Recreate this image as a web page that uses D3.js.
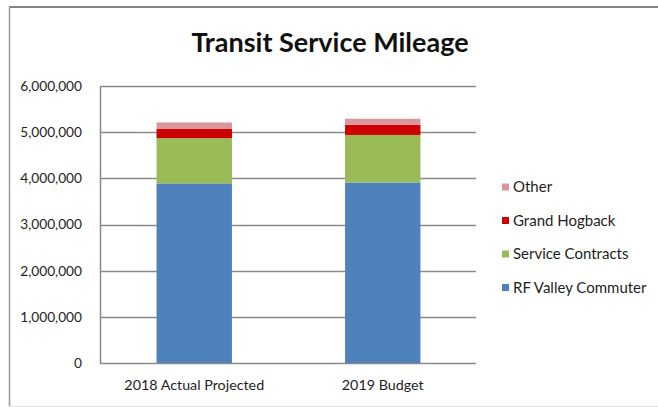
<!DOCTYPE html>
<html>
<head>
<meta charset="utf-8">
<script src="https://cdn.jsdelivr.net/npm/d3@7"></script>
<style>
  html, body { margin: 0; padding: 0; background: #fff; }
  svg { display: block; font-family: Lato, "Open Sans", sans-serif; }
</style>
</head>
<body>
<svg id="chart" width="658" height="407"></svg>
<script>
const title = "Transit Service Mileage";
const categories = ["2018 Actual Projected", "2019 Budget"];
const seriesNames = ["RF Valley Commuter", "Service Contracts", "Grand Hogback", "Other"];
const rfValleyCommuter = [3890000, 3910000];
const serviceContracts = [980000, 1030000];
const grandHogback = [200000, 220000];
const other = [140000, 130000];
const yTicks = [0, 1000000, 2000000, 3000000, 4000000, 5000000, 6000000];
const colors = ["#4F81BD", "#9BBB59", "#CC0000", "#DA959C"];

const svg = d3.select("#chart");

// chart frame
svg.append("rect").attr("x", 0).attr("y", 0).attr("width", 658).attr("height", 407).attr("fill", "#fff");
svg.append("line").attr("x1", 9).attr("x2", 658).attr("y1", 7).attr("y2", 7)
  .attr("stroke", "#858585").attr("stroke-width", 2);
svg.append("line").attr("x1", 9.5).attr("x2", 9.5).attr("y1", 7).attr("y2", 406)
  .attr("stroke", "#9a9a9a").attr("stroke-width", 1.5);
svg.append("line").attr("x1", 9).attr("x2", 658).attr("y1", 406.5).attr("y2", 406.5)
  .attr("stroke", "#e2e2e2").attr("stroke-width", 1);

const x = d3.scaleBand().domain(categories).range([100, 477]).paddingInner(0.6).paddingOuter(0.3);
const y = d3.scaleLinear().domain([0, 6000000]).range([363, 86]);

// gridlines
svg.append("g").selectAll("line").data(yTicks).join("line")
  .attr("x1", 100).attr("x2", 476)
  .attr("y1", d => Math.round(y(d)) + 0.5).attr("y2", d => Math.round(y(d)) + 0.5)
  .attr("stroke", "#8a8a8a").attr("stroke-width", 1.5);

// y axis
const yAxis = svg.append("g").attr("transform", "translate(100,0)")
  .call(d3.axisLeft(y).tickValues(yTicks).tickSize(0).tickPadding(18)
    .tickFormat(d3.format(",")));
yAxis.select(".domain").attr("stroke", "#8a8a8a").attr("stroke-width", 1.5);
yAxis.selectAll("text").attr("font-size", 13.7).attr("fill", "#1e1e1e")
  .attr("font-family", "Lato, sans-serif");

// stacked data
const table = categories.map((c, i) => ({
  category: c,
  "RF Valley Commuter": rfValleyCommuter[i],
  "Service Contracts": serviceContracts[i],
  "Grand Hogback": grandHogback[i],
  "Other": other[i]
}));
const stack = d3.stack().keys(seriesNames)(table);

svg.append("g").selectAll("g").data(stack).join("g")
  .attr("fill", (d, i) => colors[i])
  .selectAll("rect").data(d => d).join("rect")
  .attr("x", d => x(d.data.category))
  .attr("width", x.bandwidth())
  .attr("y", d => y(d[1]))
  .attr("height", d => y(d[0]) - y(d[1]));

// x axis
const xAxis = svg.append("g").attr("transform", "translate(0,363)")
  .call(d3.axisBottom(x).tickSize(0).tickPadding(17));
xAxis.select(".domain").remove();
xAxis.selectAll("text").attr("font-size", 14.3).attr("fill", "#1e1e1e")
  .attr("font-family", "Lato, sans-serif");

// title
svg.append("text").attr("x", 330).attr("y", 52).attr("text-anchor", "middle")
  .attr("font-size", 27).attr("font-weight", "bold").attr("fill", "#111")
  .text(title);

// legend (reverse order)
const legendOrder = seriesNames.map((n, i) => ({ name: n, color: colors[i] })).reverse();
const lg = svg.append("g").selectAll("g").data(legendOrder).join("g")
  .attr("transform", (d, i) => `translate(502, ${187 + i * 33.5})`);
lg.append("rect").attr("x", 0).attr("y", -3.5).attr("width", 7).attr("height", 7)
  .attr("fill", d => d.color);
lg.append("text").attr("x", 11).attr("y", 5).attr("font-size", 15).attr("fill", "#1e1e1e")
  .text(d => d.name);
</script>
</body>
</html>
